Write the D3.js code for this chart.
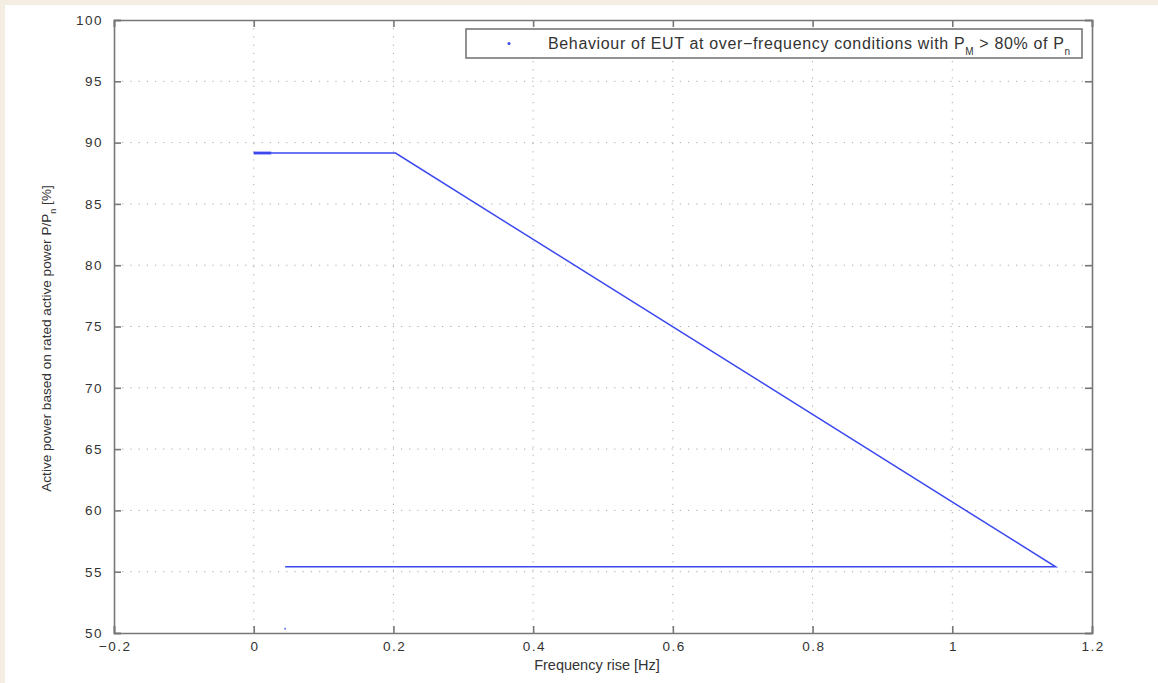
<!DOCTYPE html>
<html>
<head>
<meta charset="utf-8">
<script src="https://cdn.jsdelivr.net/npm/d3@7"></script>
<style>
  body { margin: 0; background: #f4ede1; }
  #chart { position: absolute; left: 5px; top: 5px; width: 1153px; height: 678px; background: #fff; }
  text { font-family: "Liberation Sans", Arial, sans-serif; fill: #333; }
</style>
</head>
<body>
<div id="chart"></div>
<script>
// series: frequency rise [Hz] vs active power [%]
var freqRise = [0, 0.025, 0.203, 1.148, 0.045];
var activePower = [89.15, 89.15, 89.15, 55.4, 55.4];
var strayPoint = [{x: 0.045, y: 50.35}];
var xTicks = [-0.2, 0, 0.2, 0.4, 0.6, 0.8, 1, 1.2];
var yTicks = [50, 55, 60, 65, 70, 75, 80, 85, 90, 95, 100];

var points = freqRise.map((f, i) => ({x: f, y: activePower[i]}));

var width = 1153, height = 678,
    margin = {top: 15, right: 66, bottom: 50, left: 109};

var svg = d3.select('#chart').append('svg')
  .attr('width', width)
  .attr('height', height);

var iw = width - margin.left - margin.right,
    ih = height - margin.top - margin.bottom;

var g = svg.append('g')
  .attr('transform', `translate(${margin.left},${margin.top})`);

var x = d3.scaleLinear().domain([-0.2, 1.2]).range([0, iw]);
var y = d3.scaleLinear().domain([50, 100]).range([ih, 0]);

// grid
g.append('g').selectAll('line')
  .data(xTicks.slice(1, -1))
  .enter().append('line')
  .attr('x1', d => x(d)).attr('x2', d => x(d))
  .attr('y1', 0).attr('y2', ih)
  .attr('stroke', '#aaa').attr('stroke-dasharray', '1.2,7');
g.append('g').selectAll('line')
  .data(yTicks.slice(1, -1))
  .enter().append('line')
  .attr('x1', 0).attr('x2', iw)
  .attr('y1', d => y(d)).attr('y2', d => y(d))
  .attr('stroke', '#aaa').attr('stroke-dasharray', '1.2,7');

// axes (matlab style: ticks inside, box all round)
var fmt = d => d === 0 ? '0' : String(d).replace('-', '\u2212');
var xAxis = d3.axisBottom(x).tickValues(xTicks).tickSize(-7).tickPadding(12).tickFormat(fmt);
var yAxis = d3.axisLeft(y).tickValues(yTicks).tickSize(-7).tickPadding(11);

var gx = g.append('g').attr('transform', `translate(0,${ih})`).call(xAxis);
var gy = g.append('g').call(yAxis);
g.append('g').call(d3.axisTop(x).tickValues(xTicks).tickSize(-7).tickFormat(''));
g.append('g').attr('transform', `translate(${iw},0)`)
  .call(d3.axisRight(y).tickValues(yTicks).tickSize(-7).tickFormat(''));

g.selectAll('.domain').attr('stroke', '#777').attr('stroke-width', 1.6);
g.selectAll('.tick line').attr('stroke', '#777').attr('stroke-width', 1.6);
g.selectAll('.tick text')
  .style('font-size', '13.5px').style('letter-spacing', '1.5px').style('fill', '#333');
gx.selectAll('.tick text').attr('dy', '0.45em').attr('dx', '0.75');

// data line
var line = d3.line().x(d => x(d.x)).y(d => y(d.y));
g.append('path')
  .datum(points)
  .attr('fill', 'none')
  .attr('stroke', '#3a48ee')
  .attr('stroke-width', 1.5)
  .attr('d', line);
g.append('path')
  .datum(points.slice(0, 2))
  .attr('fill', 'none')
  .attr('stroke', '#3a48ee')
  .attr('stroke-width', 2.8)
  .attr('d', line);
g.selectAll('.stray')
  .data(strayPoint)
  .enter().append('circle')
  .attr('cx', d => x(d.x)).attr('cy', d => y(d.y))
  .attr('r', 1).attr('fill', '#6677ff');

// axis labels
g.append('text')
  .attr('x', iw / 2 - 6).attr('y', ih + 37)
  .attr('text-anchor', 'middle')
  .style('font-size', '14.5px')
  .text('Frequency rise [Hz]');

var yl = g.append('text')
  .attr('transform', `translate(${-63},${ih / 2 + 12}) rotate(-90)`)
  .attr('text-anchor', 'middle')
  .style('font-size', '13.6px');
yl.append('tspan').text('Active power based on rated active power P/P');
yl.append('tspan').attr('dy', 5).style('font-size', '9px').text('n');
yl.append('tspan').attr('dy', -5).text(' [%]');

// legend
var lg = g.append('g').attr('transform', `translate(${x(-0.2) + 352},${9})`);
lg.append('rect')
  .attr('width', 616).attr('height', 29)
  .attr('fill', '#fff').attr('stroke', '#777').attr('stroke-width', 1.6);
lg.append('circle').attr('cx', 43).attr('cy', 14.5).attr('r', 1.5).attr('fill', '#3a48ee');
var lt = lg.append('text').attr('x', 82).attr('y', 20)
  .style('font-size', '16px').style('letter-spacing', '0.65px');
lt.append('tspan').text('Behaviour of EUT at over\u2212frequency conditions with P');
lt.append('tspan').attr('dy', 6).style('font-size', '10px').text('M');
lt.append('tspan').attr('dy', -6).text(' > 80% of P');
lt.append('tspan').attr('dy', 6).style('font-size', '10px').text('n');
</script>
</body>
</html>
